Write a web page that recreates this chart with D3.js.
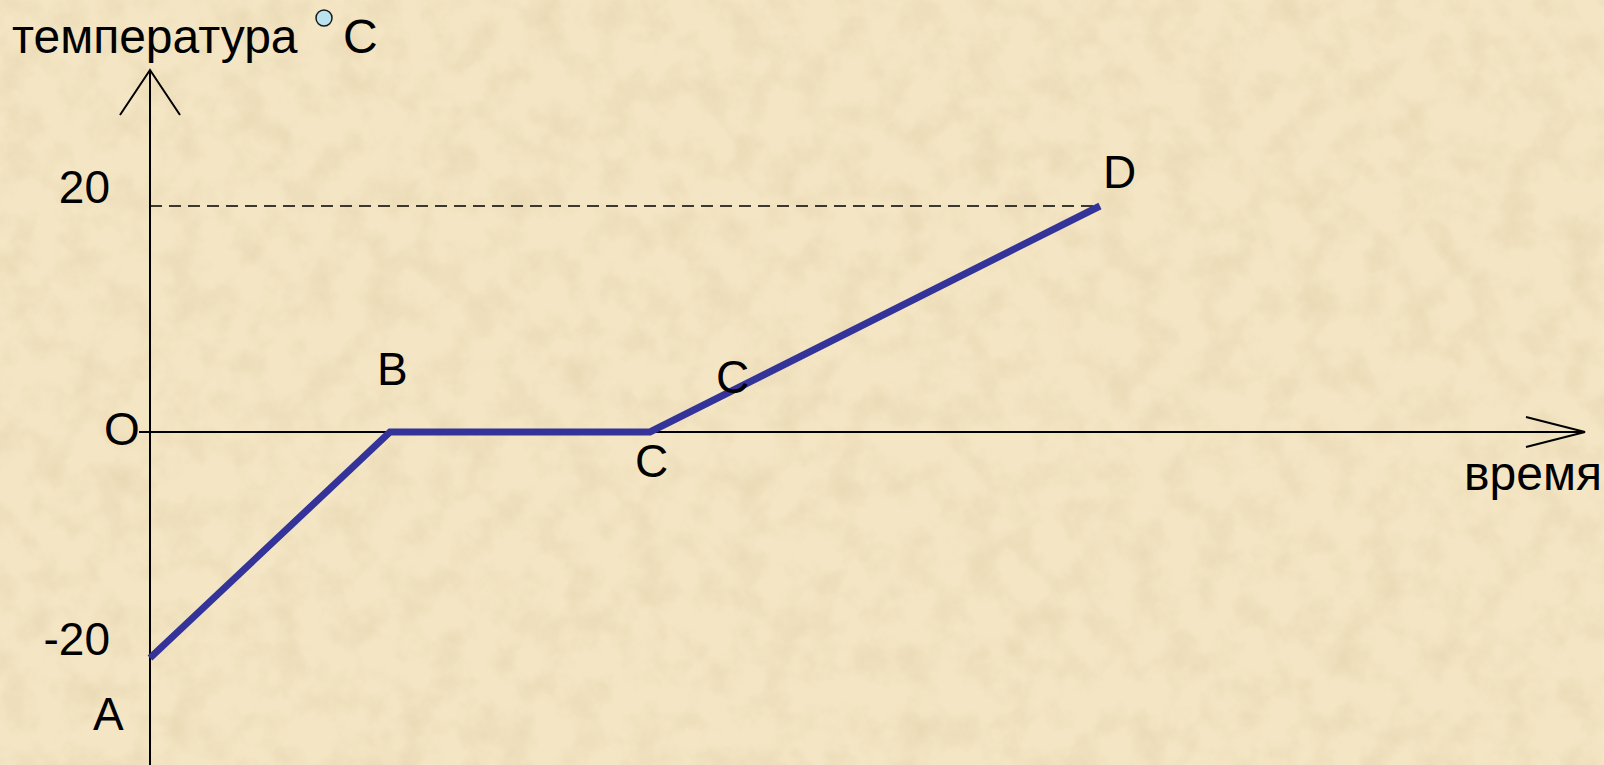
<!DOCTYPE html>
<html><head><meta charset="utf-8">
<script src="https://cdn.jsdelivr.net/npm/d3@7"></script>
<style>html,body{margin:0;padding:0;overflow:hidden;background:#f2e2bf}</style>
</head><body>
<script>
// Data
const times = [0, 24, 50, 95];
const temps = [-20, 0, 0, 20];
const pointNames = ["A", "B", "C", "D"];
const yTickValues = [20, -20];
const yTickLabels = ["20", "-20"];
const yAxisTitle = "температура";
const yAxisUnit = "C";
const xAxisTitle = "время";
const originLabel = "O";
const segmentLabel = "C";

const W = 1604, H = 765;
const svg = d3.select("body").append("svg").attr("width", W).attr("height", H);
const defs = svg.append("defs");
const f = defs.append("filter").attr("id", "paper").attr("x", 0).attr("y", 0).attr("width", "100%").attr("height", "100%");
f.append("feTurbulence").attr("type", "fractalNoise").attr("baseFrequency", "0.03 0.028").attr("numOctaves", 4).attr("seed", 7);
f.append("feColorMatrix").attr("type", "matrix")
  .attr("values", "0 0 0 0 0.6  0 0 0 0 0.48  0 0 0 0 0.25  1.1 0 0 0 -0.45");
svg.append("rect").attr("width", W).attr("height", H).attr("fill", "#f4e5c4");
svg.append("rect").attr("width", W).attr("height", H).attr("filter", "url(#paper)").attr("opacity", 0.45);

const x = d3.scaleLinear().domain([0, 95]).range([150, 1100]);
const y = d3.scaleLinear().domain([-20, 20]).range([658, 206]);

const font = "'Liberation Sans', Arial, sans-serif";
const g = svg.append("g");

// Axes
const x0 = x(0), y0 = y(0);
g.append("line").attr("x1", x0).attr("x2", x0).attr("y1", 70).attr("y2", H).attr("stroke", "#000").attr("stroke-width", 2);
g.append("path").attr("d", `M${x0-30},115 L${x0},70 L${x0+30},115`).attr("fill", "none").attr("stroke", "#000").attr("stroke-width", 2);
g.append("line").attr("x1", 139).attr("x2", 1585).attr("y1", y0).attr("y2", y0).attr("stroke", "#000").attr("stroke-width", 2);
g.append("path").attr("d", `M1526,${y0-15} L1585,${y0} L1526,${y0+15}`).attr("fill", "none").attr("stroke", "#000").attr("stroke-width", 2);

// Dashed guide to D
g.append("line").attr("x1", x0).attr("x2", x(times[3])).attr("y1", y(temps[3])).attr("y2", y(temps[3]))
  .attr("stroke", "#000").attr("stroke-width", 1.5).attr("stroke-dasharray", "12 7");

// Line
const line = d3.line().x((d, i) => x(times[i])).y((d, i) => y(temps[i]));
g.append("path").datum(temps).attr("d", line).attr("fill", "none").attr("stroke", "#333399").attr("stroke-width", 7).attr("stroke-linejoin", "miter");

// Tick labels
g.selectAll(".tick").data(yTickValues).enter().append("text")
  .attr("x", 110).attr("y", d => y(d) - 3).attr("text-anchor", "end")
  .attr("font-family", font).attr("font-size", 46).text((d, i) => yTickLabels[i]);
g.append("text").attr("x", 104).attr("y", y0 + 13).attr("font-family", font).attr("font-size", 46).text(originLabel);

// Point labels
const offs = [[-57, 72], [-13, -47], [-15, 45], [3, -18]];
g.selectAll(".pl").data(pointNames).enter().append("text")
  .attr("x", (d, i) => x(times[i]) + offs[i][0]).attr("y", (d, i) => y(temps[i]) + offs[i][1])
  .attr("font-family", font).attr("font-size", 46).text(d => d);
// segment label on CD
g.append("text").attr("x", 716).attr("y", 393).attr("font-family", font).attr("font-size", 46).text(segmentLabel);

// Axis titles
g.append("text").attr("x", 12).attr("y", 53).attr("font-family", font).attr("font-size", 48).text(yAxisTitle);
g.append("circle").attr("cx", 324).attr("cy", 18).attr("r", 8).attr("fill", "#b9e3ee").attr("stroke", "#1a1a1a").attr("stroke-width", 1.5);
g.append("text").attr("x", 343).attr("y", 53).attr("font-family", font).attr("font-size", 48).text(yAxisUnit);
g.append("text").attr("x", 1464).attr("y", 490).attr("font-family", font).attr("font-size", 48).text(xAxisTitle);
</script>
</body></html>
